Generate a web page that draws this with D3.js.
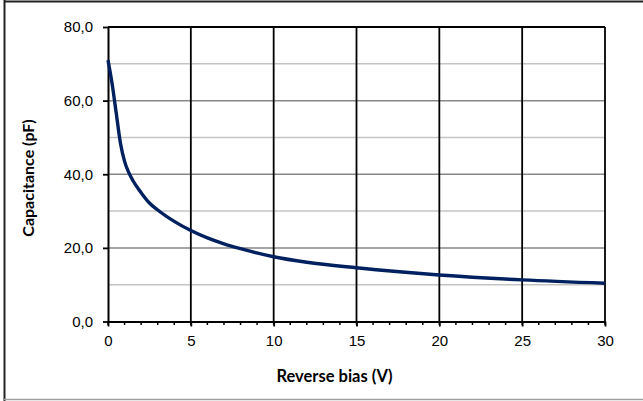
<!DOCTYPE html>
<html>
<head>
<meta charset="utf-8">
<script src="https://cdn.jsdelivr.net/npm/d3@7"></script>
<style>
  html, body { margin: 0; padding: 0; background: #fff; }
  svg { display: block; }
</style>
</head>
<body>
<svg id="chart" width="643" height="401"></svg>
<script>
// Data
const biasV = [0, 0.25, 0.5, 0.75, 1, 1.25, 1.5, 2, 2.5, 3, 4, 5, 6, 7, 8, 10, 12, 15, 20, 25, 30];
const capPF = [71.0, 64.5, 56.5, 48.5, 43.5, 40.5, 38.3, 35.0, 32.2, 30.3, 27.2, 24.7, 22.7, 21.1, 19.8, 17.6, 16.1, 14.6, 12.65, 11.3, 10.4];
const xTickValues = [0, 5, 10, 15, 20, 25, 30];
const xMinorTicks = d3.range(0, 31, 1);
const yTickValues = [0, 20, 40, 60, 80];
const yTickLabels = ["0,0", "20,0", "40,0", "60,0", "80,0"];
const yMinorGrid = [10, 30, 50, 70];
const yMajorGrid = [20, 40, 60];
const xGrid = [5, 10, 15, 20, 25];
const xTitle = "Reverse bias (V)";
const yTitle = "Capacitance (pF)";

(function () {
const svg = d3.select("#chart");
const pL = 108, pR = 605, pT = 27, pB = 321.5;
const x = d3.scaleLinear().domain([0, 30]).range([pL, pR]);
const y = d3.scaleLinear().domain([0, 80]).range([pB, pT]);

// outer frame (cropped chart border)
svg.append("line").attr("x1", 4.5).attr("x2", 4.5).attr("y1", 0).attr("y2", 401)
  .attr("stroke", "#222").attr("stroke-width", 2);
svg.append("line").attr("x1", 4).attr("x2", 643).attr("y1", 1.5).attr("y2", 1.5)
  .attr("stroke", "#222").attr("stroke-width", 2);
svg.append("line").attr("x1", 4).attr("x2", 643).attr("y1", 399.5).attr("y2", 399.5)
  .attr("stroke", "#a0a0a0").attr("stroke-width", 1.5);

// gridlines
svg.append("g").selectAll("line").data(yMinorGrid).join("line")
  .attr("x1", pL).attr("x2", pR).attr("y1", d => y(d)).attr("y2", d => y(d))
  .attr("stroke", "#c4c4c4").attr("stroke-width", 1.5);
svg.append("g").selectAll("line").data(yMajorGrid).join("line")
  .attr("x1", pL).attr("x2", pR).attr("y1", d => y(d)).attr("y2", d => y(d))
  .attr("stroke", "#878787").attr("stroke-width", 1.5);
svg.append("g").selectAll("line").data(xGrid).join("line")
  .attr("x1", d => x(d)).attr("x2", d => x(d)).attr("y1", pT).attr("y2", pB)
  .attr("stroke", "#000").attr("stroke-width", 1.8);

// plot border top and right
svg.append("line").attr("x1", pL).attr("x2", pR).attr("y1", pT).attr("y2", pT)
  .attr("stroke", "#000").attr("stroke-width", 1.8);
svg.append("line").attr("x1", pR).attr("x2", pR).attr("y1", pT).attr("y2", pB)
  .attr("stroke", "#000").attr("stroke-width", 1.8);

// x minor ticks
svg.append("g").selectAll("line").data(xMinorTicks).join("line")
  .attr("x1", d => x(d)).attr("x2", d => x(d)).attr("y1", pB).attr("y2", pB + 3.5)
  .attr("stroke", "#000").attr("stroke-width", 1.5);

// x axis
const xAxis = svg.append("g").attr("transform", `translate(0,${pB})`)
  .call(d3.axisBottom(x).tickValues(xTickValues).tickSize(5).tickPadding(9).tickSizeOuter(0));
xAxis.select(".domain").attr("stroke", "#000").attr("stroke-width", 2);
xAxis.selectAll(".tick line").attr("stroke", "#000").attr("stroke-width", 1.8);
xAxis.selectAll("text").attr("font-family", "Liberation Sans, Arial, sans-serif")
  .attr("font-size", 15).attr("fill", "#000");

// y axis
const yAxis = svg.append("g").attr("transform", `translate(${pL},0)`)
  .call(d3.axisLeft(y).tickValues(yTickValues).tickFormat((d, i) => yTickLabels[i])
    .tickSize(5).tickPadding(10).tickSizeOuter(0));
yAxis.select(".domain").attr("stroke", "#000").attr("stroke-width", 2);
yAxis.selectAll(".tick line").attr("stroke", "#000").attr("stroke-width", 1.8);
yAxis.selectAll("text").attr("font-family", "Liberation Sans, Arial, sans-serif")
  .attr("font-size", 15).attr("fill", "#000");

// curve
const line = d3.line().x((d, i) => x(biasV[i])).y(d => y(d)).curve(d3.curveMonotoneX);
svg.append("path").datum(capPF).attr("d", line)
  .attr("fill", "none").attr("stroke", "#002060").attr("stroke-width", 3.4)
  .attr("stroke-linejoin", "round").attr("stroke-linecap", "butt");

// titles
svg.append("text").attr("x", 334.5).attr("y", 382).attr("text-anchor", "middle")
  .attr("font-family", "Lato, 'Open Sans', sans-serif").attr("font-weight", "bold")
  .attr("font-size", 16.5).attr("fill", "#000").text(xTitle);
svg.append("text").attr("transform", "translate(34,178) rotate(-90)").attr("text-anchor", "middle")
  .attr("font-family", "Lato, 'Open Sans', sans-serif").attr("font-weight", "bold")
  .attr("font-size", 16).attr("fill", "#000").text(yTitle);
})();
</script>
</body>
</html>
